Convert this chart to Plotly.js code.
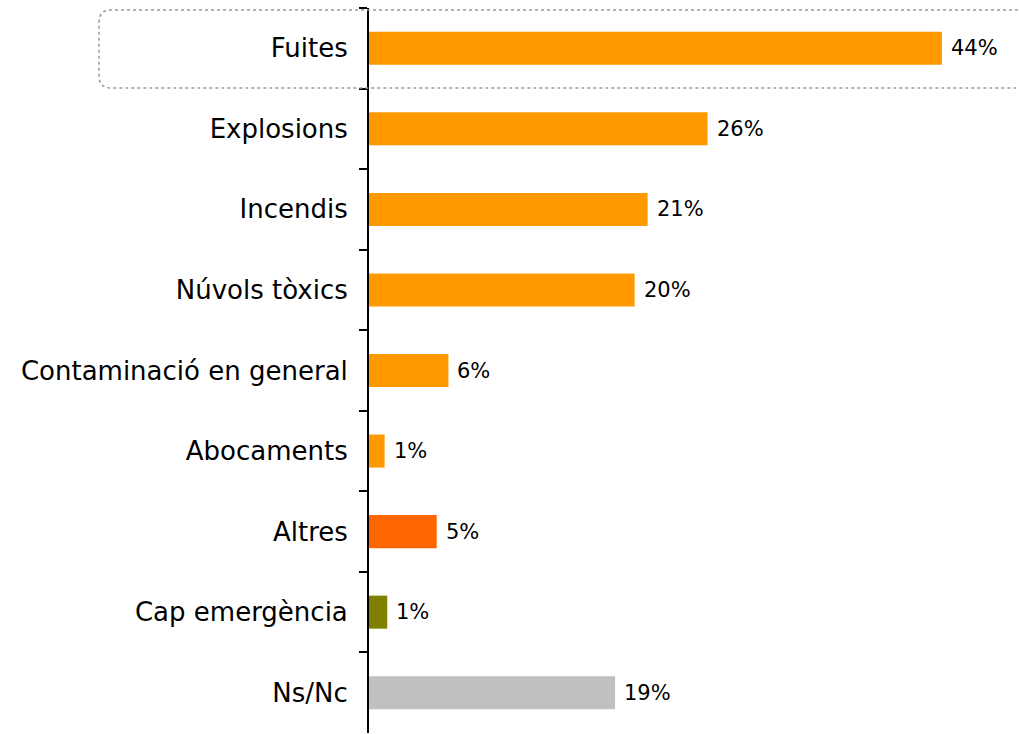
<!DOCTYPE html>
<html>
<head>
<meta charset="utf-8">
<script src="https://cdn.plot.ly/plotly-3.0.1.min.js"></script>
<style>html,body{margin:0;padding:0;background:#fff;}#chart{width:1019px;height:734px;}</style>
</head>
<body>
<div id="chart"></div>
<script>
const categories = ["Fuites", "Explosions", "Incendis", "Núvols tòxics", "Contaminació en general", "Abocaments", "Altres", "Cap emergència", "Ns/Nc"];
const values = [44, 26, 21.4, 20.4, 6.1, 1.2, 5.2, 1.4, 18.9];
const valueLabels = ["44%", "26%", "21%", "20%", "6%", "1%", "5%", "1%", "19%"];
const barColors = ["#FF9900", "#FF9900", "#FF9900", "#FF9900", "#FF9900", "#FF9900", "#FF6600", "#808000", "#C0C0C0"];

const L = 369, W = 638, T = 8, H = 725;
const px = x => (x - L) / W;
const py = y => 1 - (y - T) / H;

const x0 = px(99), x1 = px(1030), yt = py(10), yb = py(88);
const rx = 12 / W, ry = 12 / H;
const rectPath = `M ${x1},${yt} L ${x0 + rx},${yt} Q ${x0},${yt} ${x0},${yt - ry} L ${x0},${yb + ry} Q ${x0},${yb} ${x0 + rx},${yb} L ${x1},${yb}`;

const trace = {
  type: 'bar',
  orientation: 'h',
  x: values,
  y: categories,
  marker: { color: barColors },
  hoverinfo: 'none'
};

const annotations = categories.map((c, i) => ({
  x: values[i], y: c, xref: 'x', yref: 'y',
  text: valueLabels[i], showarrow: false,
  xanchor: 'left', yanchor: 'middle', xshift: 7,
  font: { family: 'DejaVu Sans', size: 21, color: '#000' }
}));

const layout = {
  width: 1019, height: 734,
  margin: { l: L, r: 1019 - L - W, t: T, b: 734 - T - H },
  paper_bgcolor: '#fff', plot_bgcolor: '#fff',
  showlegend: false,
  bargap: 0.59,
  xaxis: { range: [0, 49], visible: false, showgrid: false, zeroline: false, fixedrange: true },
  yaxis: {
    type: 'category',
    categoryorder: 'array', categoryarray: categories,
    range: [categories.length - 0.5, -0.5],
    showline: true, linecolor: '#000', linewidth: 2,
    ticks: 'outside', tickson: 'boundaries', ticklen: 8, tickwidth: 2, tickcolor: '#000',
    ticklabelstandoff: 14,
    showgrid: false, zeroline: false,
    tickfont: { family: 'DejaVu Sans', size: 26, color: '#000' }
  },
  annotations: annotations,
  shapes: [{
    type: 'path', xref: 'paper', yref: 'paper', path: rectPath,
    line: { color: '#9a9a9a', width: 1.5, dash: 'dot' }, layer: 'above'
  }]
};

Plotly.newPlot('chart', [trace], layout, { staticPlot: true, displayModeBar: false });
</script>
</body>
</html>
